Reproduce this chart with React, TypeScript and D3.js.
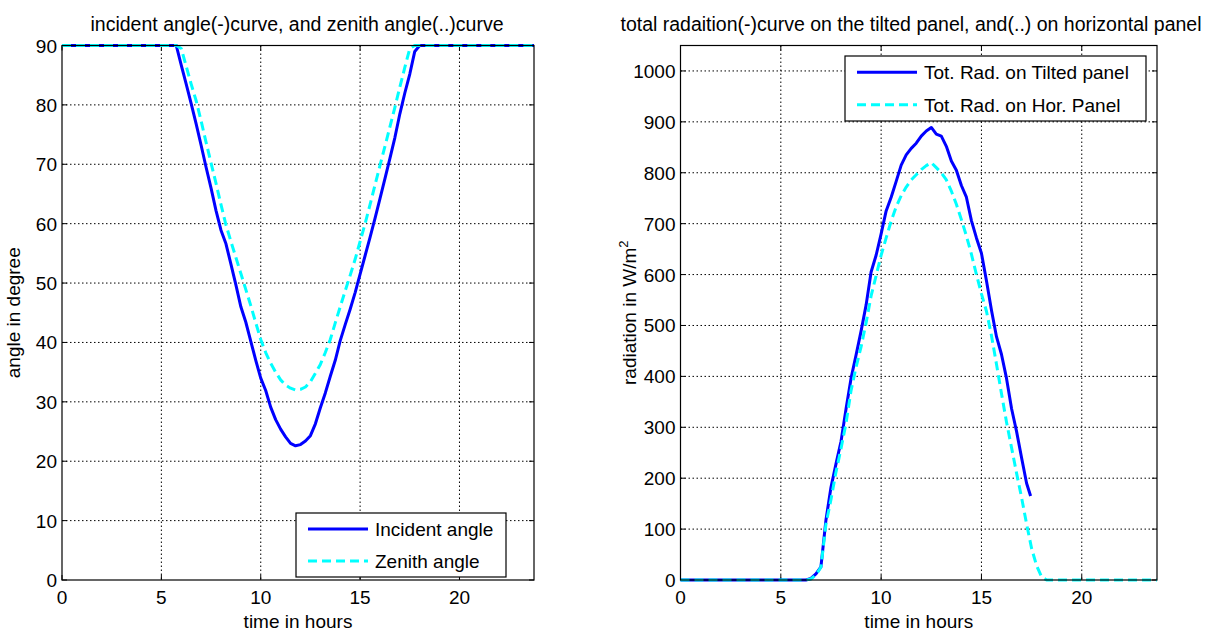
import React from 'react';
import * as d3 from 'd3';

// incident / zenith angle, readings every quarter hour where the sun is up
const angleHours = [0, 5.75, 6, 6.25, 6.5, 6.75, 7, 7.25, 7.5, 7.75, 8, 8.25, 8.5, 8.75, 9, 9.25, 9.5, 9.75, 10, 10.25, 10.5, 10.75, 11, 11.25, 11.5, 11.75, 12, 12.25, 12.5, 12.75, 13, 13.25, 13.5, 13.75, 14, 14.25, 14.5, 14.75, 15, 15.25, 15.5, 15.75, 16, 16.25, 16.5, 16.75, 17, 17.25, 17.5, 17.75, 18, 23.75];
const incidentAngle = [90, 90, 86.7, 83.5, 80.2, 76.8, 73.2, 69.5, 66, 62.2, 58.9, 56.6, 53.2, 49.7, 46, 43.4, 40.2, 37, 34, 31.9, 29.1, 27, 25.4, 24.1, 23, 22.6, 22.8, 23.4, 24.3, 26.3, 29, 31.5, 34.3, 37, 40.3, 43, 45.6, 48.4, 51.5, 54.6, 57.7, 60.9, 64.2, 67.6, 71, 74.5, 78.5, 82, 85.2, 89, 90, 90];
const zenithAngle = [90, 90, 89.5, 86.5, 83.5, 80.7, 77.3, 73.7, 70.2, 66.8, 63.2, 59.8, 57, 54.3, 51.6, 48.9, 46.2, 43.3, 40.5, 38.3, 36.5, 35, 33.7, 32.8, 32.3, 32, 32.1, 32.5, 33.4, 34.8, 36.3, 38.3, 40.5, 43.3, 46, 48.7, 51.3, 54, 57, 60, 63.2, 66.5, 69.8, 73, 76.3, 79.6, 83, 86.3, 89.5, 90, 90, 90];

// total radiation on the tilted and on the horizontal panel
const tiltedHours = [0, 6.25, 6.5, 6.75, 7, 7.25, 7.5, 7.75, 8, 8.25, 8.5, 8.75, 9, 9.25, 9.5, 9.75, 10, 10.25, 10.5, 10.75, 11, 11.25, 11.5, 11.75, 12, 12.25, 12.5, 12.75, 13, 13.25, 13.5, 13.75, 14, 14.25, 14.5, 14.75, 15, 15.25, 15.5, 15.75, 16, 16.25, 16.5, 16.75, 17, 17.25, 17.45];
const tiltedRad = [0, 0, 3, 12, 26, 118, 182, 228, 272, 336, 396, 442, 489, 540, 605, 638, 680, 725, 752, 783, 815, 835, 848, 858, 872, 882, 889, 876, 872, 852, 823, 805, 775, 752, 706, 672, 642, 588, 530, 478, 443, 396, 337, 292, 240, 190, 165];
const horizHours = [0, 6.25, 6.5, 6.75, 7, 7.25, 7.5, 7.75, 8, 8.25, 8.5, 8.75, 9, 9.25, 9.5, 9.75, 10, 10.25, 10.5, 10.75, 11, 11.25, 11.5, 11.75, 12, 12.25, 12.5, 12.75, 13, 13.25, 13.5, 13.75, 14, 14.25, 14.5, 14.75, 15, 15.25, 15.5, 15.75, 16, 16.25, 16.5, 16.75, 17, 17.25, 17.5, 17.75, 18, 18.25, 23.75];
const horizRad = [0, 0, 2, 10, 25, 110, 158, 212, 258, 308, 372, 418, 458, 505, 558, 598, 638, 672, 705, 733, 755, 772, 786, 796, 806, 814, 820, 810, 800, 786, 764, 738, 708, 676, 640, 600, 562, 528, 480, 424, 366, 310, 260, 210, 162, 110, 62, 28, 6, 0, 0];

const hourTicks = [0, 5, 10, 15, 20];
const angleTicks = [0, 10, 20, 30, 40, 50, 60, 70, 80, 90];
const radTicks = [0, 100, 200, 300, 400, 500, 600, 700, 800, 900, 1000];

const FONT = '"Liberation Sans", Arial, Helvetica, sans-serif';
const FS = 19;
const BLUE = '#0000ff';
const CYAN = '#00ffff';
const LW = 3;
const DASH = '9,5';

type Series = { hours: number[]; values: number[]; color: string; dash?: string; label: string };
type Box = { x0: number; x1: number; y0: number; y1: number };

function Panel(props: {
  box: Box;
  yMax: number;
  yTicks: number[];
  title: string;
  titleX: number;
  ylabel: React.ReactNode;
  ylabelX: number;
  series: Series[];
  legend: Box;
}) {
  const { box, yMax, yTicks, title, titleX, ylabel, ylabelX, series, legend } = props;
  const x = d3.scaleLinear().domain([0, 23.75]).range([box.x0, box.x1]);
  const y = d3.scaleLinear().domain([0, yMax]).range([box.y1, box.y0]);
  const tick = 5;
  const midX = (box.x0 + box.x1) / 2;
  const midY = (box.y0 + box.y1) / 2;
  const rowH = (legend.y1 - legend.y0) / 2;

  return (
    <g fontFamily={FONT} fontSize={FS} fill="#000">
      <rect x={box.x0} y={box.y0} width={box.x1 - box.x0} height={box.y1 - box.y0} fill="#fff" />
      {/* dotted grid */}
      {hourTicks.filter(t => x(t) > box.x0 + 1).map(t => (
        <line key={'gx' + t} x1={x(t)} x2={x(t)} y1={box.y0} y2={box.y1} stroke="#000" strokeWidth={1} strokeDasharray="1.5,2.5" />
      ))}
      {yTicks.filter(v => y(v) < box.y1 - 1 && y(v) > box.y0 + 1).map(v => (
        <line key={'gy' + v} x1={box.x0} x2={box.x1} y1={y(v)} y2={y(v)} stroke="#000" strokeWidth={1} strokeDasharray="1.5,2.5" />
      ))}
      {/* ticks on all four sides */}
      {hourTicks.map(t => (
        <g key={'tx' + t}>
          <line x1={x(t)} x2={x(t)} y1={box.y1} y2={box.y1 - tick} stroke="#000" />
          <line x1={x(t)} x2={x(t)} y1={box.y0} y2={box.y0 + tick} stroke="#000" />
          <text x={x(t)} y={box.y1 + 23.5} textAnchor="middle">{t}</text>
        </g>
      ))}
      {yTicks.map(v => (
        <g key={'ty' + v}>
          <line x1={box.x0} x2={box.x0 + tick} y1={y(v)} y2={y(v)} stroke="#000" />
          <line x1={box.x1} x2={box.x1 - tick} y1={y(v)} y2={y(v)} stroke="#000" />
          <text x={box.x0 - 5} y={y(v) + 7} textAnchor="end">{v}</text>
        </g>
      ))}
      {/* series */}
      {series.map(s => {
        const pts = s.hours.map((h, i) => [h, s.values[i]] as [number, number]);
        const path = d3.line<[number, number]>().x(d => x(d[0])).y(d => y(d[1]))(pts) || '';
        return <path key={s.label} d={path} fill="none" stroke={s.color} strokeWidth={LW} strokeDasharray={s.dash} strokeLinejoin="round" />;
      })}
      <rect x={box.x0} y={box.y0} width={box.x1 - box.x0} height={box.y1 - box.y0} fill="none" stroke="#000" strokeWidth={1.2} />
      {/* legend */}
      <rect x={legend.x0} y={legend.y0} width={legend.x1 - legend.x0} height={legend.y1 - legend.y0} fill="#fff" stroke="#000" strokeWidth={1.2} />
      {series.map((s, i) => {
        const cy = legend.y0 + rowH * (i + 0.5);
        return (
          <g key={'lg' + s.label}>
            <line x1={legend.x0 + 12} x2={legend.x0 + 72} y1={cy} y2={cy} stroke={s.color} strokeWidth={LW} strokeDasharray={s.dash} />
            <text x={legend.x0 + 79} y={cy + 7}>{s.label}</text>
          </g>
        );
      })}
      {/* labels */}
      <text x={titleX} y={30.5} textAnchor="middle" fontSize={19.5}>{title}</text>
      <text x={midX} y={628} textAnchor="middle">time in hours</text>
      <text transform={`translate(${ylabelX},${midY}) rotate(-90)`} textAnchor="middle">{ylabel}</text>
    </g>
  );
}

export default function App() {
  return (
    <svg width={1215} height={633} style={{ position: 'absolute', left: 0, top: 0, background: '#fff' }}>
      <rect width={1215} height={633} fill="#fff" />
      <Panel
        box={{ x0: 62, x1: 534, y0: 45.5, y1: 580 }}
        yMax={90}
        yTicks={angleTicks}
        title="incident angle(-)curve, and zenith angle(..)curve"
        titleX={297}
        ylabel="angle in degree"
        ylabelX={20}
        legend={{ x0: 296, x1: 506, y0: 513, y1: 577 }}
        series={[
          { hours: angleHours, values: incidentAngle, color: BLUE, label: 'Incident angle' },
          { hours: angleHours, values: zenithAngle, color: CYAN, dash: DASH, label: 'Zenith angle' },
        ]}
      />
      <Panel
        box={{ x0: 680.5, x1: 1157, y0: 45.5, y1: 580 }}
        yMax={1050}
        yTicks={radTicks}
        title="total radaition(-)curve on the tilted panel, and(..) on horizontal panel"
        titleX={911}
        ylabel={<><tspan>radiation in W/m</tspan><tspan dy={-8} fontSize={13}>2</tspan></>}
        ylabelX={636}
        legend={{ x0: 845, x1: 1146, y0: 56, y1: 121 }}
        series={[
          { hours: tiltedHours, values: tiltedRad, color: BLUE, label: 'Tot. Rad. on Tilted panel' },
          { hours: horizHours, values: horizRad, color: CYAN, dash: DASH, label: 'Tot. Rad. on Hor. Panel' },
        ]}
      />
    </svg>
  );
}
